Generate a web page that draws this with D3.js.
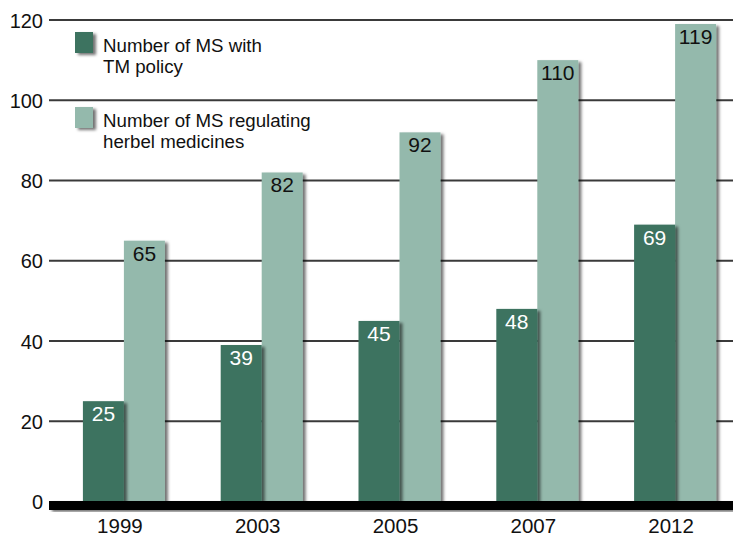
<!DOCTYPE html>
<html>
<head>
<meta charset="utf-8">
<script src="https://cdn.jsdelivr.net/npm/d3@7"></script>
<style>
  html, body { margin: 0; padding: 0; background: #fff; }
  svg { display: block; font-family: "Liberation Sans", Arial, Helvetica, sans-serif; }
</style>
</head>
<body>
<svg id="chart" width="733" height="538"></svg>
<script>
const years = ["1999", "2003", "2005", "2007", "2012"];
const tmPolicy = [25, 39, 45, 48, 69];
const herbalReg = [65, 82, 92, 110, 119];
const yTicks = [0, 20, 40, 60, 80, 100, 120];
const seriesNames = ["Number of MS with\nTM policy", "Number of MS regulating\nherbel medicines"];
const colors = ["#3d7360", "#94b9ac"];

const svg = d3.select("#chart");
const W = 733;

const defs = svg.append("defs");
const f = defs.append("filter").attr("id", "shadow")
  .attr("x", "-20%").attr("y", "-10%").attr("width", "150%").attr("height", "130%");
f.append("feDropShadow").attr("dx", 3).attr("dy", 2).attr("stdDeviation", 1.8)
  .attr("flood-color", "#000").attr("flood-opacity", 0.55);

const y = d3.scaleLinear().domain([0, 120]).range([501.5, 20]);
const x = d3.scaleBand().domain(years).range([55, 744]).paddingInner(0.405).paddingOuter(0.2025);
const xs = d3.scaleBand().domain([0, 1]).range([0, x.bandwidth()]);

// gridlines + y tick labels
const yAxis = d3.axisLeft(y).tickValues(yTicks).tickSize(0).tickPadding(6);
const gy = svg.append("g").attr("transform", "translate(49,0)").call(yAxis);
gy.select(".domain").remove();
gy.selectAll("text").attr("font-size", "20px").attr("fill", "#111")
  .attr("font-family", "Liberation Sans, Arial, sans-serif").attr("dy", "0.36em");

svg.append("g").selectAll("line").data(yTicks.filter(d => d > 0)).join("line")
  .attr("x1", 49).attr("x2", W)
  .attr("y1", d => y(d)).attr("y2", d => y(d))
  .attr("stroke", "#3a3a3a").attr("stroke-width", 2);

// bars: light first, dark on top (its shadow falls on the light bar)
const bars = svg.append("g");
const lightG = bars.append("g");
lightG.selectAll("rect").data(years).join("rect")
  .attr("x", d => x(d) + xs(1)).attr("width", xs.bandwidth())
  .attr("y", (d, i) => y(herbalReg[i])).attr("height", (d, i) => y(0) - y(herbalReg[i]))
  .attr("fill", colors[1]).attr("filter", "url(#shadow)");
const darkG = bars.append("g");
darkG.selectAll("rect").data(years).join("rect")
  .attr("x", d => x(d) + xs(0)).attr("width", xs.bandwidth())
  .attr("y", (d, i) => y(tmPolicy[i])).attr("height", (d, i) => y(0) - y(tmPolicy[i]))
  .attr("fill", colors[0]).attr("filter", "url(#shadow)");

// value labels
svg.append("g").selectAll("text").data(years).join("text")
  .attr("x", d => x(d) + xs(0) + xs.bandwidth() / 2)
  .attr("y", (d, i) => y(tmPolicy[i]) + 20)
  .attr("text-anchor", "middle").attr("font-size", "21px").attr("fill", "#fff")
  .text((d, i) => tmPolicy[i]);
svg.append("g").selectAll("text").data(years).join("text")
  .attr("x", d => x(d) + xs(1) + xs.bandwidth() / 2)
  .attr("y", (d, i) => y(herbalReg[i]) + 20)
  .attr("text-anchor", "middle").attr("font-size", "21px").attr("fill", "#111")
  .text((d, i) => herbalReg[i]);

// thick baseline
svg.append("rect").attr("x", 49).attr("y", y(0) - 0.5).attr("width", W - 49).attr("height", 9)
  .attr("fill", "#000").attr("filter", "url(#shadow)");

// x labels
const xAxis = d3.axisBottom(x).tickSize(0).tickPadding(0);
const gx = svg.append("g").attr("transform", "translate(-4," + (y(0) + 31.5) + ")").call(xAxis);
gx.select(".domain").remove();
gx.selectAll("text").attr("font-size", "20.5px").attr("fill", "#111")
  .attr("font-family", "Liberation Sans, Arial, sans-serif").attr("dy", "0");

// legend
const legendTops = [32, 107];
const lg = svg.append("g");
seriesNames.forEach((name, i) => {
  const g = lg.append("g").attr("transform", "translate(75," + legendTops[i] + ")");
  g.append("rect").attr("width", 18).attr("height", 21).attr("fill", colors[i]).attr("filter", "url(#shadow)");
  const t = g.append("text").attr("x", 28).attr("y", 20).attr("font-size", "18.7px").attr("fill", "#111");
  name.split("\n").forEach((line, j) => {
    t.append("tspan").attr("x", 28).attr("dy", j === 0 ? 0 : 21).text(line);
  });
});
</script>
</body>
</html>
